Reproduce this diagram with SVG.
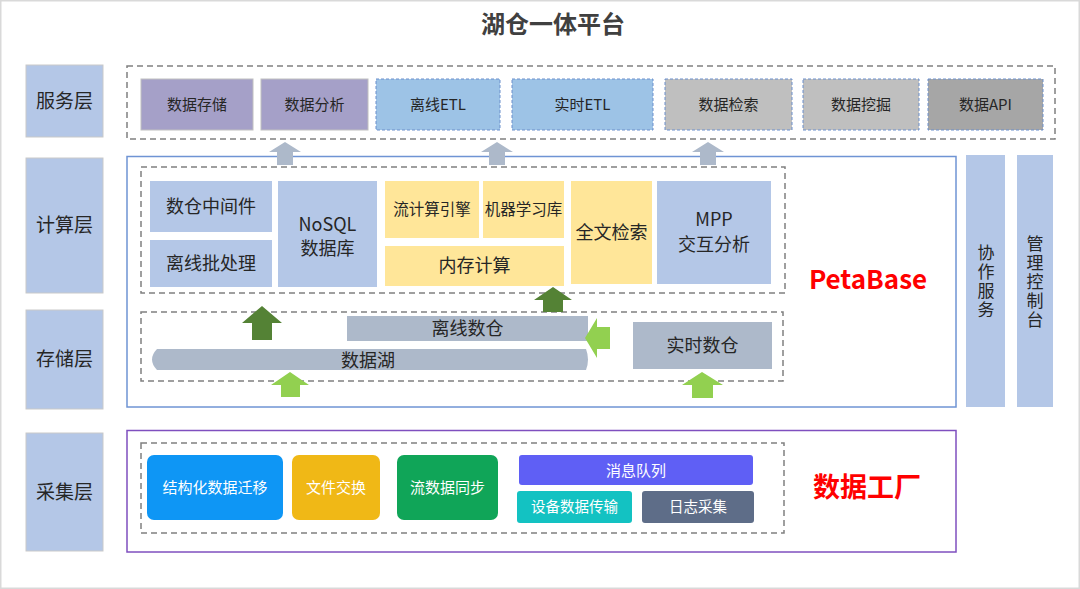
<svg xmlns="http://www.w3.org/2000/svg" width="1080" height="589" viewBox="0 0 1080 589">
<style>
text{font-family:"Noto Sans CJK SC","Microsoft YaHei",sans-serif;text-anchor:middle;fill:#262626}
.lbl{fill:#B4C7E7;stroke:#C9C9C9;stroke-width:1}
.dash{fill:none;stroke:#808080;stroke-width:1.5;stroke-dasharray:6 4}
.svc{fill:#A5A0C8;stroke:#C0C0C0;stroke-width:1}
.svcd{stroke:#6A8FCC;stroke-width:1;stroke-dasharray:3 2}
.cb{fill:#B4C7E7}
.cy{fill:#FFE699}
.st{fill:#ADB9CA}
.wt{fill:#FFFFFF}
.vt{font-size:17px;writing-mode:vertical-rl;letter-spacing:2px}
.garrow{fill:#ADB9CA}
.dg{fill:#548235}
.lg{fill:#92D050}
</style>
<rect x="0.5" y="0.5" width="1079" height="588" fill="#FFFFFF" stroke="#D9D9D9" stroke-width="2"/>
<text x="553" y="33" font-size="24" font-weight="bold" style="fill:#404040">湖仓一体平台</text>

<!-- layer labels -->
<g id="layer-service"><rect class="lbl" x="26" y="65" width="77" height="72"/><text x="64.5" y="108" font-size="19">服务层</text></g>
<g id="layer-compute"><rect class="lbl" x="26" y="158" width="77" height="135"/><text x="64.5" y="232" font-size="19">计算层</text></g>
<g id="layer-storage"><rect class="lbl" x="26" y="310" width="77" height="99"/><text x="64.5" y="366" font-size="19">存储层</text></g>
<g id="layer-collect"><rect class="lbl" x="26" y="433" width="77" height="118"/><text x="64.5" y="499" font-size="19">采集层</text></g>

<!-- service layer -->
<g id="service-layer">
<rect class="dash" x="127" y="66" width="928" height="73"/>
<g id="svc-store"><rect class="svc" x="141" y="79" width="112" height="51"/><text x="197" y="110" font-size="15">数据存储</text></g>
<g id="svc-analyze"><rect class="svc" x="261" y="79" width="107" height="51"/><text x="314.5" y="110" font-size="15">数据分析</text></g>
<g id="svc-oetl"><rect class="svcd" fill="#9DC3E6" x="376" y="79" width="124" height="51"/><text x="438" y="110" font-size="15">离线ETL</text></g>
<g id="svc-retl"><rect class="svcd" fill="#9DC3E6" x="512" y="79" width="141" height="51"/><text x="582.5" y="110" font-size="15">实时ETL</text></g>
<g id="svc-search"><rect class="svcd" fill="#BFBFBF" x="665" y="79" width="127" height="51"/><text x="728.5" y="110" font-size="15">数据检索</text></g>
<g id="svc-mine"><rect class="svcd" fill="#BFBFBF" x="803" y="79" width="116" height="51"/><text x="861" y="110" font-size="15">数据挖掘</text></g>
<g id="svc-api"><rect class="svcd" fill="#A6A6A6" x="928" y="79" width="115" height="51"/><text x="985.5" y="110" font-size="15">数据API</text></g>
</g>

<!-- PetaBase -->
<g id="petabase">
<rect x="127" y="156.5" width="829" height="250.5" fill="none" stroke="#6F94D4" stroke-width="1.5"/>
<text x="868" y="289" font-size="26" font-weight="bold" style="fill:#FF0000">PetaBase</text>
</g>

<g id="compute-layer">
<rect class="dash" x="141" y="167" width="644" height="126"/>
<g id="c-mid"><rect class="cb" x="150" y="181" width="122" height="51"/><text x="211" y="213" font-size="18">数仓中间件</text></g>
<g id="c-batch"><rect class="cb" x="150" y="240" width="122" height="47"/><text x="211" y="270" font-size="18">离线批处理</text></g>
<g id="c-nosql"><rect class="cb" x="278" y="181" width="99" height="106"/><text x="327.5" y="231" font-size="18">NoSQL</text><text x="327.5" y="255" font-size="18">数据库</text></g>
<g id="c-stream"><rect class="cy" x="385" y="181" width="94" height="57"/><text x="432" y="215" font-size="15.5">流计算引擎</text></g>
<g id="c-ml"><rect class="cy" x="483" y="181" width="81" height="57"/><text x="523.5" y="215" font-size="15.5">机器学习库</text></g>
<g id="c-mem"><rect class="cy" x="385" y="246" width="179" height="40"/><text x="474.5" y="272" font-size="18">内存计算</text></g>
<g id="c-fts"><rect class="cy" x="571" y="181" width="81" height="103"/><text x="611.5" y="239" font-size="18">全文检索</text></g>
<g id="c-mpp"><rect class="cb" x="657" y="181" width="114" height="103"/><text x="714" y="226" font-size="18">MPP</text><text x="714" y="251" font-size="18">交互分析</text></g>
</g>

<g id="storage-layer">
<rect class="dash" x="141" y="312" width="642" height="69"/>
<g id="s-ow"><rect class="st" x="347" y="316" width="241" height="25"/><text x="467.5" y="335" font-size="18">离线数仓</text></g>
<g id="s-lake"><path class="st" d="M157,349 L586,349 Q590,359.5 586,370 L157,370 Q147,359.5 157,349 Z"/><text x="368" y="367" font-size="18">数据湖</text></g>
<g id="s-rw"><rect class="st" x="633" y="322" width="139" height="47"/><text x="702.5" y="352" font-size="18">实时数仓</text></g>
</g>

<!-- side columns -->
<g id="collab"><rect fill="#B4C7E7" x="966" y="155" width="39" height="252"/>
<text class="vt" x="986" y="282">协作服务</text></g>
<g id="console"><rect fill="#B4C7E7" x="1017" y="155" width="36" height="252"/>
<text class="vt" x="1035" y="283">管理控制台</text></g>

<!-- collection layer -->
<g id="datafactory">
<rect x="127" y="430.5" width="829" height="121.5" fill="none" stroke="#7F4FBF" stroke-width="1.5"/>
<text x="867" y="497" font-size="27" font-weight="bold" style="fill:#FF0000">数据工厂</text>
<rect class="dash" x="141" y="443" width="643" height="90"/>
<g id="f-struct"><rect fill="#0E96F5" x="147" y="455" width="136" height="65" rx="7"/><text class="wt" x="215" y="493" font-size="15">结构化数据迁移</text></g>
<g id="f-file"><rect fill="#F0B816" x="292" y="455" width="88" height="65" rx="7"/><text class="wt" x="336" y="493" font-size="15">文件交换</text></g>
<g id="f-sync"><rect fill="#10A558" x="397" y="455" width="101" height="65" rx="7"/><text class="wt" x="447.5" y="493" font-size="15">流数据同步</text></g>
<g id="f-mq"><rect fill="#5F5FF5" x="519" y="455" width="234" height="30" rx="3"/><text class="wt" x="636" y="475.5" font-size="15">消息队列</text></g>
<g id="f-dev"><rect fill="#13C2C2" x="517" y="491" width="115" height="32" rx="3"/><text class="wt" x="574.5" y="512" font-size="14.5">设备数据传输</text></g>
<g id="f-log"><rect fill="#5E6D88" x="642" y="491" width="112" height="32" rx="3"/><text class="wt" x="698" y="512" font-size="14.5">日志采集</text></g>
</g>

<!-- connectors / arrows -->
<g id="connectors">
<polygon class="garrow" points="285,142 301,152 293,152 293,165 277,165 277,152 269,152"/>
<polygon class="garrow" points="497,142 513,152 505,152 505,165 489,165 489,152 481,152"/>
<polygon class="garrow" points="708,142 724,152 716,152 716,165 700,165 700,152 692,152"/>
<polygon class="dg" points="262,306 282,323 272,323 272,340 252,340 252,323 242,323"/>
<polygon class="dg" points="553,287 572,300 563,300 563,312 543,312 543,300 534,300"/>
<polygon class="lg" points="290,372 309,385 300,385 300,397 281,397 281,385 271,385"/>
<polygon class="lg" points="702,372 723,385 713,385 713,398 692,398 692,385 682,385"/>
<polygon class="lg" points="585,338 597,318 597,327 610,327 610,349 597,349 597,358"/>
</g>
</svg>
